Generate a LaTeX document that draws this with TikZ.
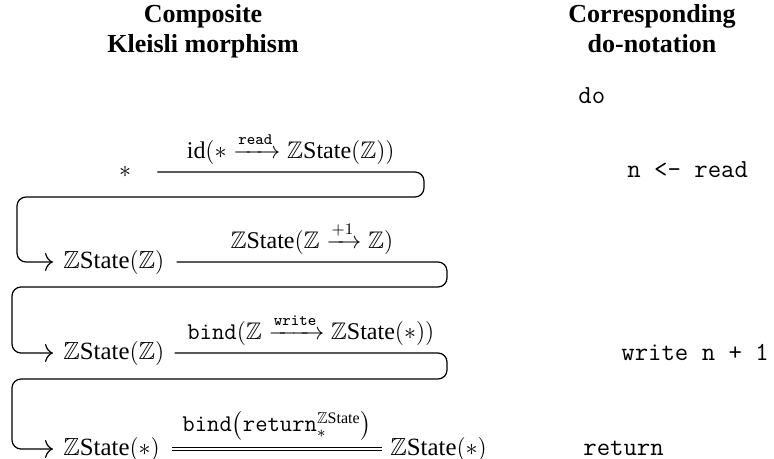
\documentclass[tikz,border=0pt]{standalone}
\usepackage{amsmath,amssymb}
\usepackage{fontspec}
\setmainfont{Liberation Serif}
\usetikzlibrary{calc,arrows.meta}
\newcommand{\ZS}{\mathbb{Z}\text{State}}
\begin{document}
\begin{tikzpicture}[x=0.5pt,y=-0.5pt,
  txt/.style={font=\fontsize{12.4}{14}\selectfont, inner sep=0pt},
  hdr/.style={font=\fontsize{13}{15}\selectfont\bfseries, align=center, inner sep=0pt, anchor=north},
  code/.style={font=\fontsize{13}{15}\selectfont\ttfamily, inner sep=0pt, anchor=base west},
  lbl/.style={font=\fontsize{12}{14}\selectfont, above, inner sep=3.5pt},
  loopline/.style={draw, line width=0.6pt, rounded corners=4.5pt},
  arr/.style={-{Computer Modern Rightarrow[length=4pt,width=9pt]}},
  eqline/.style={draw, line width=0.5pt}]
\useasboundingbox (0,0) rectangle (774,459);
% headers
\node[hdr] (h1) at (203,4) {Composite\\Kleisli morphism};
\node[hdr] (h2) at (652,4) {Corresponding\\do-notation};
% code column
\node[code] (cdo) at (578,104) {do};
\node[code] (cread) at (627,178) {n <- read};
\node[code] (cwrite) at (621,360) {write n + 1};
\node[code] (cret) at (583,455) {return};
% objects
\node[txt] (star) at (125,172) {$\ast$};
\node[txt, anchor=west] (s2) at (63,262) {$\ZS(\mathbb{Z})$};
\node[txt, anchor=west] (s3) at (63,353) {$\ZS(\mathbb{Z})$};
\node[txt, anchor=west] (s4) at (63,449) {$\ZS(\ast)$};
\node[txt, anchor=west] (s5) at (390,449) {$\ZS(\ast)$};
% corner coordinates
\coordinate (r1) at (424,172);
\coordinate (b1) at (424,197);
\coordinate (l1) at (17,197);
\coordinate (r2) at (447,262);
\coordinate (b2) at (447,287);
\coordinate (l2) at (12,287);
\coordinate (r3) at (447,353);
\coordinate (b3) at (447,379);
\coordinate (l3) at (12,379);
% connectors
\draw[loopline, arr] ([xshift=13pt]star.east) -- node[lbl]{$\text{id}(\ast \xrightarrow{\texttt{read}} \ZS(\mathbb{Z}))$} (r1)
  -- (b1) -- (l1) -- (l1 |- s2.west) -- ([xshift=-5pt]s2.west);
\draw[loopline, arr] ([xshift=6pt]s2.east) -- node[lbl]{$\ZS(\mathbb{Z} \xrightarrow{+1} \mathbb{Z})$} (r2)
  -- (b2) -- (l2) -- (l2 |- s3.west) -- ([xshift=-5pt]s3.west);
\draw[loopline, arr] ([xshift=5pt]s3.east) -- node[lbl]{$\texttt{bind}(\mathbb{Z} \xrightarrow{\texttt{write}} \ZS(\ast))$} (r3)
  -- (b3) -- (l3) -- (l3 |- s4.west) -- ([xshift=-5pt]s4.west);
\draw[eqline] ([xshift=6pt,yshift=-0.9pt]s4.east) -- node[lbl, inner sep=5pt]{$\texttt{bind}\bigl(\texttt{return}^{\ZS}_{\ast}\bigr)$} ([xshift=-4pt,yshift=-0.9pt]s5.west);
\draw[eqline] ([xshift=6pt,yshift=0.9pt]s4.east) -- ([xshift=-4pt,yshift=0.9pt]s5.west);
\end{tikzpicture}
\end{document}
